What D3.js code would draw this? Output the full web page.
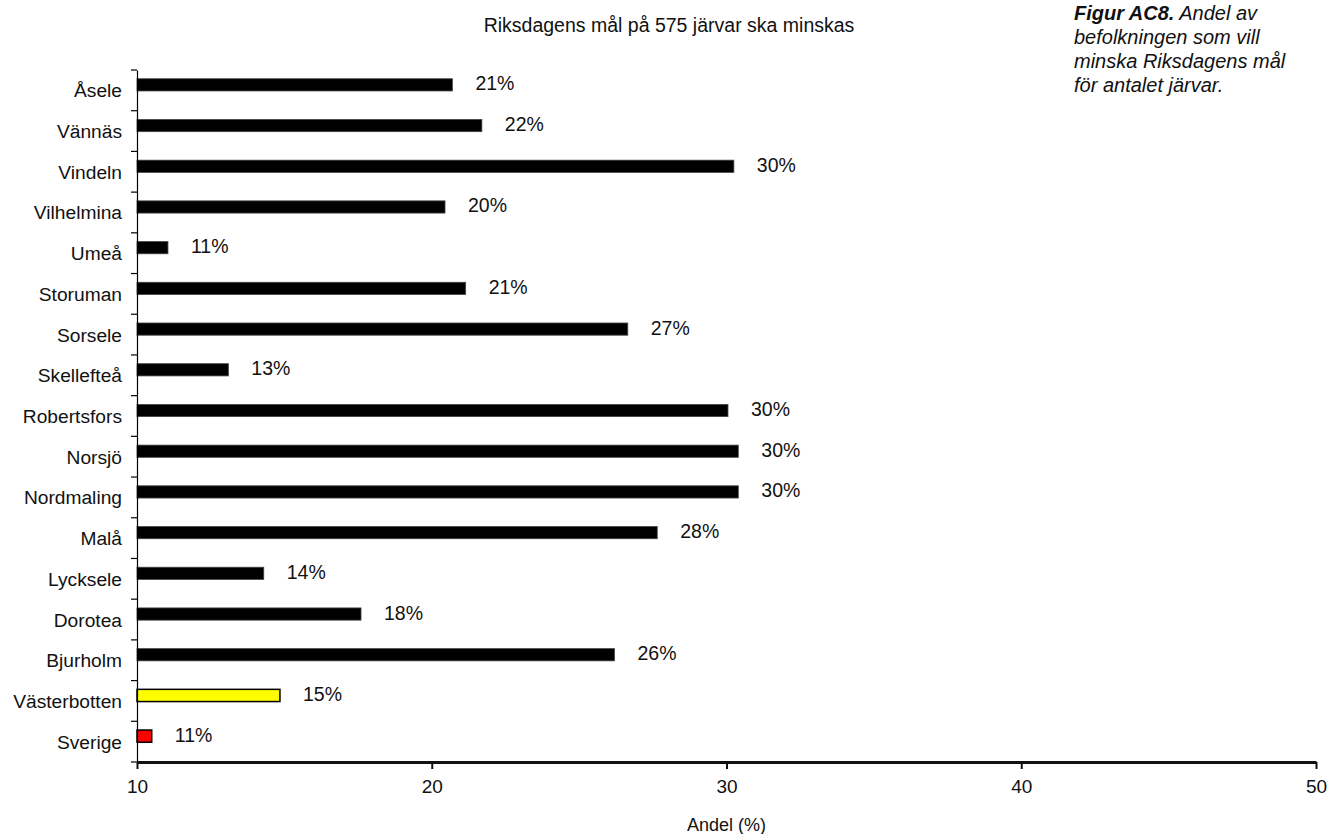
<!DOCTYPE html>
<html><head><meta charset="utf-8">
<script src="https://cdn.jsdelivr.net/npm/d3@7"></script>
<style>body{margin:0;background:#fff}svg{display:block}text{font-family:"Liberation Sans",Arial,sans-serif;fill:#111}</style>
</head><body>
<script>
const categories = ["Åsele","Vännäs","Vindeln","Vilhelmina","Umeå","Storuman","Sorsele","Skellefteå","Robertsfors","Norsjö","Nordmaling","Malå","Lycksele","Dorotea","Bjurholm","Västerbotten","Sverige"];
const values = [20.7,21.7,30.25,20.45,11.05,21.15,26.65,13.1,30.05,30.4,30.4,27.65,14.3,17.6,26.2,14.85,10.5];
const labels = ["21%","22%","30%","20%","11%","21%","27%","13%","30%","30%","30%","28%","14%","18%","26%","15%","11%"];
const colors = ["#000","#000","#000","#000","#000","#000","#000","#000","#000","#000","#000","#000","#000","#000","#000","#ffff00","#ff0000"];
const xTicks = [10,20,30,40,50];
const title = "Riksdagens mål på 575 järvar ska minskas";
const xTitle = "Andel (%)";
const captionBold = "Figur AC8.";
const captionLines = [" Andel av","befolkningen som vill","minska Riksdagens mål","för antalet järvar."];

const W=1329,H=834;
const svg=d3.select("body").append("svg").attr("width",W).attr("height",H);
const x=d3.scaleLinear().domain([10,50]).range([137,1316]);
const y=d3.scaleBand().domain(categories).range([70,762]).padding(0);
const bw=y.bandwidth(), barH=bw*0.3;

// bars
svg.append("g").selectAll("rect").data(categories).join("rect")
  .attr("x",x(10)).attr("y",(c)=>y(c)+bw/2-barH*0.95)
  .attr("width",(c,i)=>x(values[i])-x(10)).attr("height",barH)
  .attr("fill",(c,i)=>colors[i]).attr("stroke",(c,i)=>i>=15?"#000":"#444").attr("stroke-width",(c,i)=>i>=15?1.5:0.8);

// value labels
svg.append("g").selectAll("text").data(categories).join("text")
  .attr("x",(c,i)=>x(values[i])+23).attr("y",(c)=>y(c)+bw/2-barH*0.45+5.5)
  .attr("font-size",19.5).text((c,i)=>labels[i]);

// y axis
const yAxis=d3.axisLeft(y).tickSize(0).tickFormat("");
const gy=svg.append("g").attr("transform",`translate(${x(10)},0)`).call(yAxis);
gy.select(".domain").attr("stroke","#000").attr("stroke-width",1.2);
const bounds=categories.map(c=>y(c)).concat([y.range()[1]]);
svg.append("g").selectAll("line").data(bounds).join("line")
  .attr("x1",x(10)-6).attr("x2",x(10)).attr("y1",d=>d).attr("y2",d=>d).attr("stroke","#000").attr("stroke-width",1.2);
svg.append("g").selectAll("text").data(categories).join("text")
  .attr("x",122).attr("y",c=>y(c)+bw/2+7).attr("text-anchor","end").attr("font-size",19.2).text(c=>c);

// x axis
const xAxis=d3.axisBottom(x).tickValues(xTicks).tickSize(7).tickFormat(d3.format("d")).tickSizeOuter(0);
const gx=svg.append("g").attr("transform",`translate(0,762)`).call(xAxis);
gx.select(".domain").attr("stroke","#111").attr("stroke-width",3);
gx.selectAll(".tick line").attr("stroke","#111").attr("stroke-width",2);
gx.selectAll(".tick text").attr("font-size",19).attr("dy",0).attr("y",31).attr("font-family","Liberation Sans, Arial, sans-serif").attr("fill","#111");

svg.append("text").attr("x",x(30)).attr("y",831).attr("text-anchor","middle").attr("font-size",18).text(xTitle);
svg.append("text").attr("x",669).attr("y",32).attr("text-anchor","middle").attr("font-size",19.5).text(title);

const cap=svg.append("g").attr("font-size",20).attr("font-style","italic");
const t0=cap.append("text").attr("x",1074).attr("y",20);
t0.append("tspan").attr("font-weight","bold").text(captionBold);
t0.append("tspan").text(captionLines[0]);
captionLines.slice(1).forEach((l,i)=>cap.append("text").attr("x",1074).attr("y",20+24*(i+1)).text(l));
</script>
</body></html>
